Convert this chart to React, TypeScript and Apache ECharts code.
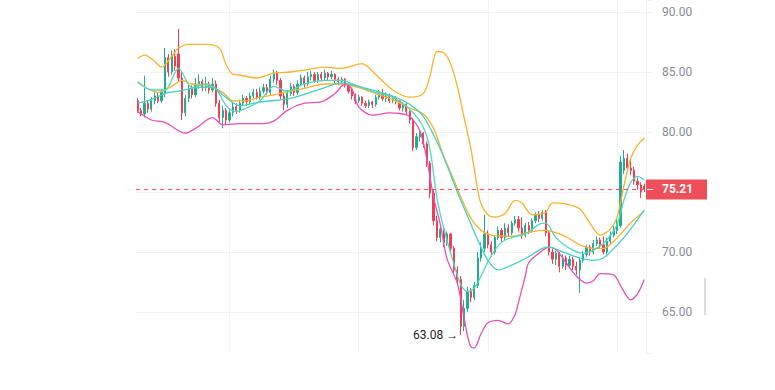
import React, { useEffect, useRef } from 'react';
import * as echarts from 'echarts';

const opens = [82.6,81.8,81.5,82.4,81.9,82.6,83.0,82.6,83.3,86.2,85.0,86.3,86.5,84.5,81.6,82.8,83.6,83.1,83.9,84.2,83.7,84.0,83.5,84.0,82.4,81.2,81.8,81.0,81.6,82.1,81.8,82.4,82.8,82.5,83.0,83.3,82.9,83.4,83.7,83.3,84.4,84.9,84.3,83.0,82.3,83.2,83.8,83.3,84.0,84.5,84.0,84.6,84.8,84.3,84.8,84.5,84.9,84.6,84.8,84.4,84.2,84.4,83.9,83.4,83.0,82.6,82.9,82.4,82.2,82.5,82.3,82.9,83.2,82.8,83.0,82.6,82.8,82.6,82.0,82.3,81.7,81.0,78.7,79.6,79.9,79.0,77.4,74.9,72.6,71.2,71.9,70.8,71.5,70.3,68.5,67.7,63.8,65.3,66.7,66.2,67.2,69.5,70.3,71.5,70.6,70.0,71.2,71.8,71.2,72.0,71.6,72.4,72.7,72.0,71.4,72.2,71.8,72.6,73.1,72.8,73.3,71.6,70.0,69.4,69.9,68.8,69.5,68.9,69.4,68.8,68.5,69.3,69.8,70.4,70.0,70.7,71.0,70.6,70.0,70.9,71.4,71.8,72.2,76.8,77.8,77.0,76.8,75.9,75.6,75.5];
const closes = [81.8,81.5,82.4,81.9,82.6,83.0,82.6,83.3,86.2,85.0,86.3,85.5,84.5,81.6,82.8,83.6,83.1,83.9,84.2,83.7,84.0,83.5,84.0,82.4,81.2,81.8,81.0,81.6,82.1,81.8,82.4,82.8,82.5,83.0,83.3,82.9,83.4,83.7,83.3,84.4,84.9,84.3,83.0,82.3,83.2,83.8,83.3,84.0,84.5,84.0,84.6,84.8,84.3,84.8,84.5,84.9,84.6,84.8,84.4,84.2,84.4,83.9,83.4,83.0,82.6,82.9,82.4,82.2,82.5,82.3,82.9,83.2,82.8,83.0,82.6,82.8,82.6,82.0,82.3,81.7,81.0,78.7,79.6,79.9,79.0,77.4,74.9,72.6,71.2,71.9,70.8,71.5,70.3,68.5,67.7,63.8,65.3,66.7,66.2,67.2,69.5,70.3,71.5,70.6,70.0,71.2,71.8,71.2,72.0,71.6,72.4,72.7,72.0,71.4,72.2,71.8,72.6,73.1,72.8,73.3,71.6,70.0,69.4,69.9,68.8,69.5,68.9,69.4,68.8,68.5,69.3,69.8,70.4,70.0,70.7,71.0,70.6,70.0,70.9,71.4,71.8,72.4,77.5,77.8,77.0,76.8,75.9,75.6,75.0,75.21];
const lows = [81.6,81.3,81.2,81.6,81.7,82.3,82.4,82.4,82.9,84.6,84.8,85.1,84.2,81.0,81.3,82.5,82.8,82.9,83.6,83.4,83.4,83.2,83.3,82.1,80.7,80.3,80.6,80.8,81.3,81.5,81.6,82.2,82.2,82.3,82.8,82.7,82.7,83.2,83.1,83.1,84.1,83.9,82.7,81.8,82.0,83.0,83.0,83.1,83.8,83.7,83.8,84.3,84.1,84.1,84.2,84.3,84.3,84.4,84.1,83.9,84.0,83.7,83.2,82.7,82.3,82.4,82.2,82.0,82.0,82.0,82.1,82.7,82.6,82.5,82.4,82.4,82.3,81.8,81.7,81.5,80.7,78.4,78.5,79.2,78.7,77.1,74.5,72.2,70.9,70.8,70.4,70.5,69.9,68.2,67.3,63.08,63.4,65.0,65.8,66.0,67.0,69.2,70.0,70.3,69.6,69.8,71.0,70.8,71.0,71.3,71.4,72.2,71.7,71.1,71.2,71.5,71.6,72.4,72.5,72.6,71.3,69.7,69.0,68.9,68.3,68.6,68.5,68.7,68.5,68.1,66.6,69.1,69.6,69.7,69.8,70.5,70.3,69.8,69.8,70.7,71.2,71.5,72.0,76.5,76.7,76.4,75.6,75.2,74.5,75.0];
const highs = [82.8,82.0,84.7,82.6,82.9,83.4,83.3,83.6,87.0,86.5,86.8,86.9,88.6,85.0,83.1,84.0,83.9,84.5,84.8,84.4,84.6,84.2,84.5,84.3,82.7,82.2,82.0,82.0,82.5,82.4,82.7,83.1,83.0,83.3,83.6,83.6,83.7,84.0,84.0,84.7,85.2,85.1,84.5,83.3,83.5,84.1,84.0,84.3,84.8,84.7,85.0,85.1,85.0,85.0,85.0,85.2,85.0,85.1,84.9,84.6,84.6,84.5,84.0,83.6,83.2,83.1,83.0,82.6,82.7,82.6,83.1,83.5,83.6,83.3,83.2,83.0,83.0,82.7,82.5,82.4,81.8,81.2,79.9,80.1,80.0,79.2,77.6,75.2,73.0,72.1,72.0,71.7,71.6,70.5,68.8,68.0,66.0,67.1,67.0,67.5,70.0,70.8,73.1,71.8,70.9,71.4,72.1,72.0,72.4,72.3,72.6,73.0,73.0,72.9,72.4,72.5,72.8,73.3,73.4,73.5,73.5,71.8,70.3,70.1,70.0,69.8,69.7,69.7,69.6,69.2,69.5,70.1,70.6,70.6,71.0,71.3,71.2,71.3,71.2,71.7,72.2,72.8,78.0,78.5,78.2,77.8,77.1,76.2,75.8,75.7];

const bbUpper = [[0,86.1],[2,86.4],[5,85.9],[7,85.4],[10,86.3],[12,87.0],[15,87.3],[20,87.3],[24,87.0],[26,85.6],[28,84.8],[30,84.75],[35,84.5],[40,84.9],[45,85.0],[50,85.2],[55,85.4],[60,85.3],[66,85.7],[70,84.8],[75,83.5],[80,82.9],[84,83.2],[86,84.7],[87,86.0],[88,86.7],[90,86.6],[92,85.7],[94,83.8],[96,81.2],[98,78.6],[100,75.2],[101,74.0],[103,73.1],[105,72.9],[108,73.2],[111,74.3],[113,74.1],[116,73.1],[120,73.3],[122,74.1],[126,74.0],[130,73.6],[133,72.4],[136,71.4],[139,71.9],[141,72.9],[143,75.5],[145,77.8],[147,78.9],[149,79.5]];
const bbMid = [[0,84.1],[3,83.6],[6,83.3],[10,83.8],[13,84.3],[16,84.0],[20,83.9],[25,83.3],[28,82.6],[32,82.6],[36,82.9],[40,83.1],[45,83.4],[50,83.7],[55,84.0],[60,84.0],[65,83.7],[70,83.2],[75,82.7],[80,82.0],[84,81.5],[87,80.3],[90,78.0],[93,76.0],[95,74.6],[98,72.8],[101,71.8],[104,71.4],[110,71.3],[116,71.7],[120,71.8],[124,71.5],[127,71.1],[130,70.6],[134,70.3],[137,70.3],[140,70.9],[143,71.8],[146,72.7],[149,73.4]];
const bbLower = [[0,81.7],[4,81.0],[8,80.8],[14,79.9],[17,80.3],[22,81.2],[25,80.6],[30,80.7],[37,80.7],[40,80.9],[44,81.8],[49,82.4],[54,82.5],[58,83.2],[61,84.0],[63,83.6],[65,82.1],[69,81.4],[74,81.6],[78,81.5],[80,81.3],[83,80.1],[85,77.8],[87,74.6],[89,72.3],[91,69.4],[94,67.4],[96,64.5],[97,63.0],[98,62.1],[99,62.0],[101,63.2],[103,64.1],[106,64.3],[109,64.0],[111,64.8],[112,65.8],[114,68.0],[115,69.1],[118,69.9],[121,70.4],[123,70.2],[126,69.1],[129,68.0],[132,67.4],[134,67.6],[136,68.2],[140,68.1],[142,67.2],[145,66.0],[147,66.5],[149,67.7]];
const tealFast = [[0,84.2],[4,83.5],[8,83.5],[12,85.3],[16,83.7],[20,84.0],[23,83.6],[26,82.2],[29,81.7],[32,82.0],[36,82.6],[40,83.8],[44,83.4],[49,84.0],[55,84.3],[60,84.3],[64,83.9],[70,83.3],[75,82.9],[80,81.9],[84,80.4],[86,78.5],[88,74.5],[90,72.0],[93,69.0],[95,67.3],[97,66.7],[99,67.0],[101,68.0],[104,69.7],[107,70.8],[110,71.2],[114,71.5],[118,72.3],[120,72.4],[123,71.2],[127,70.3],[131,69.9],[135,70.3],[138,71.0],[141,72.3],[143,74.3],[145,75.8],[147,76.3],[149,76.0]];
const tealSlow = [[0,82.4],[4,82.7],[8,83.2],[12,83.4],[17,83.7],[22,83.75],[25,83.1],[30,82.2],[36,82.5],[45,82.8],[55,83.7],[60,84.1],[65,83.8],[75,83.0],[80,82.3],[84,81.3],[88,79.2],[91,77.2],[94,75.0],[97,73.0],[100,71.0],[103,69.3],[106,68.5],[110,68.9],[115,69.6],[119,70.3],[121,70.4],[125,70.0],[130,69.5],[134,69.3],[137,69.5],[140,70.3],[143,71.2],[146,72.3],[149,73.5]];

const lastPrice = 75.21;
const lowPrice = 63.08;
const lowIndex = 95;
// 75.00 sits under the last-price badge in the reference, so it is not labelled
const yTickValues = [65, 70, 80, 85, 90];
const vGridIndices = [27, 65, 103, 141];

const categories = opens.map((_, i) => String(i));

export default function App() {
  const ref = useRef<HTMLDivElement>(null);
  useEffect(() => {
    const chart = echarts.init(ref.current!, null, { renderer: 'svg' });
    const gridColor = '#f0f2f5';
    const up = '#22ab94';
    const down = '#f23f4f';
    const candleData = opens.map((o, i) => [o, closes[i], lows[i], highs[i]]);
    const toLine = (arr: number[][]) => arr.map(([i, v]) => [categories[i], v]);
    const lineSeries = (name: string, data: number[][], color: string) => ({
      name,
      type: 'line',
      data: toLine(data),
      showSymbol: false,
      smooth: 0.3,
      z: 3,
      silent: true,
      lineStyle: { color, width: 1.3 },
      itemStyle: { color },
    });
    chart.setOption({
      animation: false,
      textStyle: { fontFamily: 'Roboto' },
      grid: { left: 136, right: 129, top: 0, bottom: 37 },
      xAxis: {
        type: 'category',
        data: categories,
        boundaryGap: true,
        axisLine: { show: false },
        axisTick: { show: false },
        axisLabel: { show: false },
        splitLine: {
          show: true,
          alignWithLabel: true,
          interval: (idx: number) => vGridIndices.includes(idx),
          lineStyle: { color: gridColor, width: 1 },
        },
      },
      yAxis: {
        type: 'value',
        position: 'right',
        min: 61.58,
        max: 91,
        splitNumber: 5,
        axisLine: { show: true, lineStyle: { color: gridColor } },
        axisTick: { show: true, length: 6, lineStyle: { color: gridColor } },
        axisLabel: {
          margin: 16,
          color: '#878c96',
          fontSize: 12,
          fontFamily: 'Roboto',
          formatter: (v: number) => (yTickValues.includes(Math.round(v * 100) / 100) ? v.toFixed(2) : ''),
        },
        splitLine: {
          show: true,
          lineStyle: {
            color: ['rgba(0,0,0,0)', gridColor, gridColor, gridColor, gridColor, gridColor, gridColor, 'rgba(0,0,0,0)'],
          },
        },
      },
      series: [
        {
          type: 'candlestick',
          data: candleData,
          barWidth: 1.8,
          z: 2,
          itemStyle: { color: up, color0: down, borderColor: up, borderColor0: down, borderWidth: 1 },
          markLine: {
            symbol: 'none',
            silent: true,
            data: [{ yAxis: lastPrice }],
            lineStyle: { color: '#ef4f5b', type: [4, 4], width: 1 },
            label: {
              show: true,
              position: 'end',
              distance: 0,
              formatter: lastPrice.toFixed(2),
              color: '#ffffff',
              fontWeight: 'bold',
              fontSize: 12,
              fontFamily: 'Roboto',
              backgroundColor: '#ef4f5b',
              padding: [4, 14, 4, 16],
            },
          },
          markPoint: {
            symbol: 'circle',
            symbolSize: 1,
            silent: true,
            itemStyle: { color: 'rgba(0,0,0,0)' },
            data: [{ coord: [categories[lowIndex], lowPrice], value: lowPrice }],
            label: {
              show: true,
              position: 'left',
              distance: 2,
              formatter: lowPrice.toFixed(2) + ' \u2192',
              color: '#1e222d',
              fontSize: 12,
              fontFamily: 'Roboto',
            },
          },
        },
        lineSeries('BB Upper', bbUpper, '#fbb12a'),
        lineSeries('BB Basis', bbMid, '#fbb12a'),
        lineSeries('BB Lower', bbLower, '#e650b8'),
        lineSeries('MA Fast', tealFast, '#4fd8c4'),
        lineSeries('MA Slow', tealSlow, '#45d0c0'),
      ],
      graphic: [
        { type: 'line', shape: { x1: 647, y1: 189.5, x2: 653, y2: 189.5 }, style: { stroke: '#ffffff', lineWidth: 1 }, z: 100 },
        { type: 'rect', shape: { x: 704, y: 278, width: 2, height: 37 }, style: { fill: '#dcdcdc' } },
      ],
    });
    return () => chart.dispose();
  }, []);
  return <div ref={ref} style={{ position: 'absolute', left: 0, top: 0, width: 775, height: 390 }} />;
}
